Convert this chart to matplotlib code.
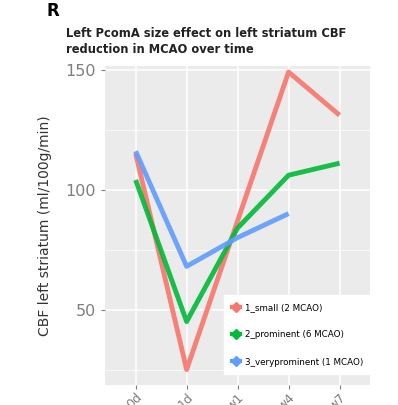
import matplotlib.pyplot as plt
import numpy as np

timepoints = ["0d", "1d", "w1", "w4", "w7"]
small = [115, 25, 87, 149, 131]
prominent = [104, 45, 84, 106, 111]
very_prominent = [116, 68, 80, 90]

labels = ["1_small (2 MCAO)", "2_prominent (6 MCAO)", "3_veryprominent (1 MCAO)"]
colors = ["#F8766D", "#00BA38", "#619CFF"]

fig = plt.figure(figsize=(3.98, 4.05), dpi=100)
ax = fig.add_axes([0.264, 0.049, 0.666, 0.788])
ax.set_facecolor("#EBEBEB")

x = np.arange(len(timepoints))
for vals, lab, c in zip([small, prominent, very_prominent], labels, colors):
    ax.plot(x[:len(vals)], vals, color=c, lw=3.5, label=lab, alpha=0.9,
            solid_capstyle="butt")

ax.set_xlim(-0.6, 4.6)
ax.set_ylim(18.5, 151.5)
ax.set_xticks(x)
ax.set_xticklabels(timepoints, rotation=45, ha="right", rotation_mode="anchor",
                   color="#7F7F7F", fontsize=9)
ax.set_yticks([50, 100, 150])
ax.set_yticks([25, 75, 125], minor=True)
ax.tick_params(axis="y", labelcolor="#7F7F7F", labelsize=11.5, color="#7F7F7F", length=3)
ax.tick_params(axis="x", color="#7F7F7F", length=3, pad=1)
ax.tick_params(which="minor", length=0)
ax.grid(which="major", color="white", lw=1.1)
ax.grid(which="minor", color="white", lw=0.5)
ax.set_axisbelow(True)
for s in ax.spines.values():
    s.set_visible(False)
ax.set_ylabel("CBF left striatum (ml/100g/min)", fontsize=10, color="#333333", labelpad=10)

handles = [plt.Line2D([], [], color=c, lw=3, marker="D", markersize=5) for c in colors]
leg = ax.legend(handles, labels, loc="lower right", fontsize=6.3, frameon=True,
                fancybox=False, edgecolor="white", framealpha=1,
                handlelength=1.0, handletextpad=0.5, labelspacing=2.1, borderpad=0.9,
                bbox_to_anchor=(1.02, 0.02))

fig.text(0.118, 0.96, "R", fontsize=12, fontweight="bold")
fig.text(0.165, 0.87, "Left PcomA size effect on left striatum CBF\nreduction in MCAO over time",
         fontsize=8.3, fontweight="bold", color="#222222", linespacing=1.3)

fig.savefig("out.png", dpi=100)
